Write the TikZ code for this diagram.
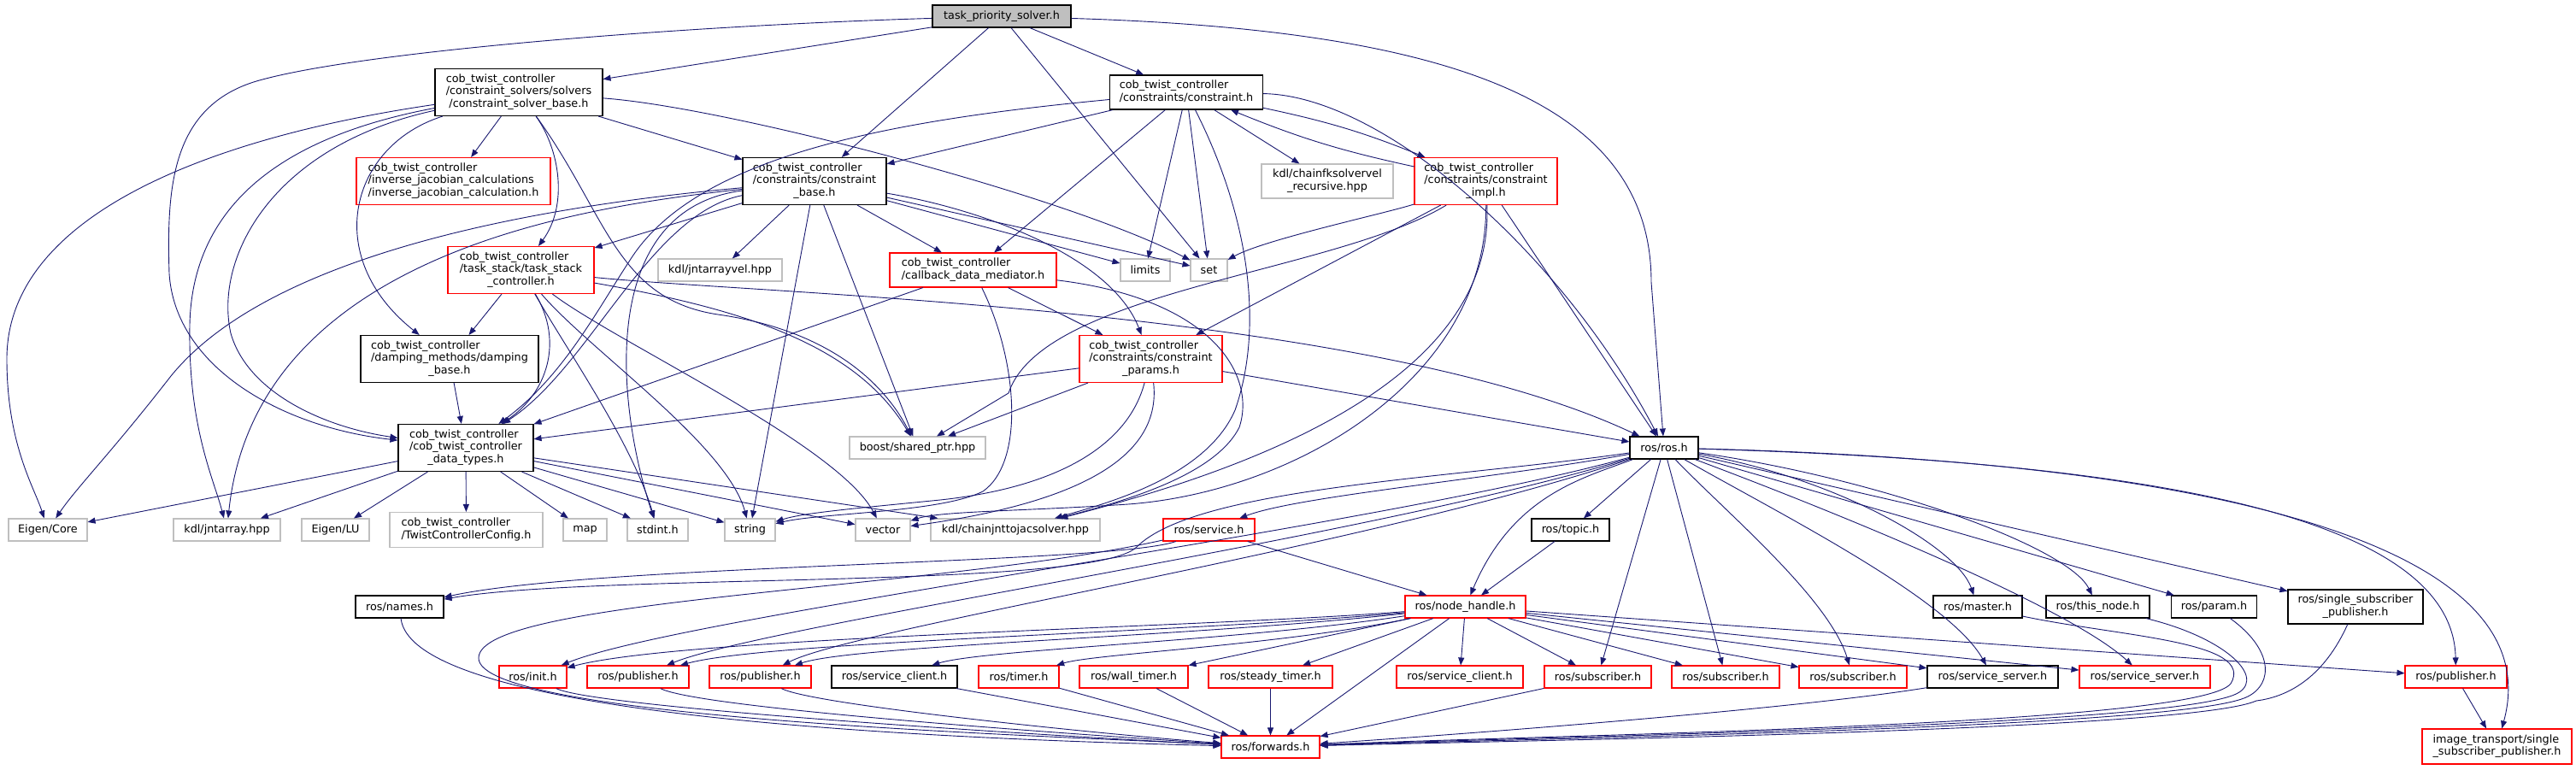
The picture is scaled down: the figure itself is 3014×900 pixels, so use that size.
\documentclass[tikz,border=0pt]{standalone}
\usepackage{fontspec}
\setmainfont{DejaVu Sans}
\usetikzlibrary{arrows.meta}

\definecolor{edgeblue}{HTML}{191970}
\definecolor{boxgray}{HTML}{BFBFBF}
\definecolor{boxred}{HTML}{FF0000}

% multi-line labels: first lines flush left, last line centred
\newcommand{\lbltwo}[2]{\begin{tabular}{@{}l@{}}#1\\\multicolumn{1}{@{}c@{}}{#2}\end{tabular}}
\newcommand{\lblthree}[3]{\begin{tabular}{@{}l@{}}#1\\#2\\\multicolumn{1}{@{}c@{}}{#3}\end{tabular}}

\begin{document}
\begin{tikzpicture}[x=1pt, y=-1pt,
    hbox/.style={draw, line width=1.1pt, inner sep=0pt, fill=white,
        font=\fontsize{12.8}{14.5}\selectfont},
    doc/.style={hbox, draw=black},
    ext/.style={hbox, draw=boxgray},
    trunc/.style={hbox, draw=boxred},
    root/.style={hbox, draw=black, fill=boxgray},
    wh/.style 2 args={minimum width=#1pt, minimum height=#2pt},
    dep/.style={draw=edgeblue, line width=0.9pt, -{Triangle[length=9pt,width=7pt]}, fill=none}]

    \useasboundingbox (0,0) rectangle (3014,900);

    % Top of the graph
    \node[root, wh={162}{26}] (tps) at (1172,19) {task\_priority\_solver.h};
    \node[doc, wh={196}{55}] (csb) at (607,108) {\lblthree{cob\_twist\_controller}{/constraint\_solvers/solvers}{/constraint\_solver\_base.h}};
    \node[doc, wh={179}{40}] (con) at (1388,108) {\lbltwo{cob\_twist\_controller}{/constraints/constraint.h}};

    \node[trunc, wh={227}{55}] (ijc) at (530.5,212) {\lblthree{cob\_twist\_controller}{/inverse\_jacobian\_calculations}{/inverse\_jacobian\_calculation.h}};
    \node[doc, wh={168}{55}] (cbase) at (953,212) {\lblthree{cob\_twist\_controller}{/constraints/constraint}{\_base.h}};
    \node[ext, wh={154}{40}] (fk) at (1553,212) {\lbltwo{kdl/chainfksolvervel}{\_recursive.hpp}};
    \node[trunc, wh={167}{55}] (cimpl) at (1738.5,212) {\lblthree{cob\_twist\_controller}{/constraints/constraint}{\_impl.h}};

    \node[trunc, wh={171}{55}] (tsc) at (609.5,316) {\lblthree{cob\_twist\_controller}{/task\_stack/task\_stack}{\_controller.h}};
    \node[ext, wh={145}{26}] (jav) at (842.5,316) {kdl/jntarrayvel.hpp};
    \node[trunc, wh={195}{40}] (cdm) at (1138.5,316) {\lbltwo{cob\_twist\_controller}{/callback\_data\_mediator.h}};
    \node[ext, wh={58}{26}] (lim) at (1340,316) {limits};
    \node[ext, wh={43}{26}] (set) at (1414.5,316) {set};

    \node[doc, wh={208}{55}] (damp) at (526,420) {\lblthree{cob\_twist\_controller}{/damping\_methods/damping}{\_base.h}};
    \node[trunc, wh={167}{55}] (cpar) at (1346.5,420) {\lblthree{cob\_twist\_controller}{/constraints/constraint}{\_params.h}};

    \node[doc, wh={158}{55}] (dt) at (545,524) {\lblthree{cob\_twist\_controller}{/cob\_twist\_controller}{\_data\_types.h}};
    \node[ext, wh={159}{26}] (bsp) at (1073.5,524) {boost/shared\_ptr.hpp};
    \node[doc, wh={80}{26}] (ros) at (1947,524) {ros/ros.h};

    % System headers and ros headers
    \node[ext, wh={92}{26}] (ecore) at (56,620) {Eigen/Core};
    \node[ext, wh={125}{26}] (ja) at (265.5,620) {kdl/jntarray.hpp};
    \node[ext, wh={79}{26}] (elu) at (392.5,620) {Eigen/LU};
    \node[ext, wh={179}{41}] (tcc) at (545.5,620) {\lbltwo{cob\_twist\_controller}{/TwistControllerConfig.h}};
    \node[ext, wh={51}{26}] (map) at (684.5,620) {map};
    \node[ext, wh={71}{26}] (stdint) at (769.5,620) {stdint.h};
    \node[ext, wh={59}{26}] (string) at (877.5,620) {string};
    \node[ext, wh={64}{26}] (vector) at (1033,620) {vector};
    \node[ext, wh={198}{26}] (jtj) at (1188,620) {kdl/chainjnttojacsolver.hpp};
    \node[trunc, wh={107}{26}] (srv) at (1414.5,620) {ros/service.h};
    \node[doc, wh={91}{26}] (topic) at (1837.5,620) {ros/topic.h};

    \node[doc, wh={103}{26}] (names) at (467.5,710) {ros/names.h};
    \node[trunc, wh={141}{26}] (nh) at (1714.5,710) {ros/node\_handle.h};
    \node[doc, wh={104}{26}] (master) at (2314,710) {ros/master.h};
    \node[doc, wh={121}{26}] (thisnode) at (2454.5,710) {ros/this\_node.h};
    \node[doc, wh={100}{26}] (param) at (2590.5,710) {ros/param.h};
    \node[doc, wh={158}{40}] (ssp) at (2756,710) {\lbltwo{ros/single\_subscriber}{\_publisher.h}};

    \node[trunc, wh={79}{26}] (init) at (623.5,792) {ros/init.h};
    \node[trunc, wh={119}{26}] (pub1) at (746.5,792) {ros/publisher.h};
    \node[trunc, wh={119}{26}] (pub2) at (889.5,792) {ros/publisher.h};
    \node[doc, wh={147}{26}] (sc1) at (1046.5,792) {ros/service\_client.h};
    \node[trunc, wh={94}{26}] (timer) at (1192,792) {ros/timer.h};
    \node[trunc, wh={127}{26}] (wtimer) at (1326.5,792) {ros/wall\_timer.h};
    \node[trunc, wh={145}{26}] (stimer) at (1486.5,792) {ros/steady\_timer.h};
    \node[trunc, wh={148}{26}] (sc2) at (1708,792) {ros/service\_client.h};
    \node[trunc, wh={125}{26}] (sub1) at (1869.5,792) {ros/subscriber.h};
    \node[trunc, wh={126}{26}] (sub2) at (2019,792) {ros/subscriber.h};
    \node[trunc, wh={126}{26}] (sub3) at (2168,792) {ros/subscriber.h};
    \node[doc, wh={153}{26}] (ss1) at (2331.5,792) {ros/service\_server.h};
    \node[trunc, wh={153}{26}] (ss2) at (2509.5,792) {ros/service\_server.h};
    \node[trunc, wh={119}{26}] (pub3) at (2873.5,792) {ros/publisher.h};

    \node[trunc, wh={115}{26}] (fwd) at (1486.5,874) {ros/forwards.h};
    \node[trunc, wh={175}{41}] (itsp) at (2921.5,873.5) {\lbltwo{image\_transport/single}{\_subscriber\_publisher.h}};

    % task_priority_solver.h
    \draw[dep] (tps) -- (csb);
    \draw[dep] (tps) .. controls (800,30) and (420,60) .. (300,95) .. controls (200,125) and (195,220) .. (198,320) .. controls (205,430) and (330,500) .. (dt);
    \draw[dep] (tps) -- (cbase);
    \draw[dep] (tps) -- (con);
    \draw[dep] (tps) -- (set);
    \draw[dep] (tps) .. controls (1700,35) and (1932,120) .. (1932,330) -- (ros);

    % constraint_solver_base.h
    \draw[dep] (csb) -- (ijc);
    \draw[dep] (csb) .. controls (655,175) and (665,240) .. (tsc);
    \draw[dep] (csb) -- (cbase);
    \draw[dep] (csb) .. controls (850,125) and (1250,230) .. (set);
    \draw[dep] (csb) .. controls (250,160) and (8,250) .. (8,420) .. controls (8,520) and (40,570) .. (ecore);
    \draw[dep] (csb) .. controls (330,160) and (225,240) .. (222,380) .. controls (220,500) and (250,560) .. (ja);
    \draw[dep] (csb) .. controls (320,170) and (250,300) .. (270,390) .. controls (290,460) and (380,500) .. (dt);
    \draw[dep] (csb) .. controls (410,170) and (375,300) .. (damp);
    \draw[dep] (csb) .. controls (710,250) and (720,350) .. (840,368) .. controls (960,385) and (1030,440) .. (bsp);

    % constraint.h
    \draw[dep] (con) -- (cbase);
    \draw[dep] (con) .. controls (1050,140) and (820,180) .. (740,300) .. controls (700,360) and (660,440) .. (dt);
    \draw[dep] (con) -- (cdm);
    \draw[dep] (con) -- (lim);
    \draw[dep] (con) -- (set);
    \draw[dep] (con) -- (fk);
    \draw[dep] (con) to[bend left=5] (cimpl);
    \draw[dep] (con) .. controls (1620,112) and (1830,300) .. (ros);
    \draw[dep] (con) .. controls (1460,250) and (1480,380) .. (1445,480) .. controls (1410,560) and (1290,590) .. (jtj);

    % constraint_base.h
    \draw[dep] (cbase) -- (tsc);
    \draw[dep] (cbase) .. controls (700,235) and (330,280) .. (200,440) .. controls (130,530) and (90,570) .. (ecore);
    \draw[dep] (cbase) .. controls (700,240) and (300,290) .. (ja);
    \draw[dep] (cbase) .. controls (760,250) and (690,430) .. (dt);
    \draw[dep] (cbase) .. controls (700,245) and (720,470) .. (stdint);
    \draw[dep] (cbase) -- (jav);
    \draw[dep] (cbase) -- (string);
    \draw[dep] (cbase) -- (bsp);
    \draw[dep] (cbase) -- (cdm);
    \draw[dep] (cbase) -- (lim);
    \draw[dep] (cbase) -- (set);
    \draw[dep] (cbase) .. controls (1150,245) and (1300,300) .. (cpar);

    % task_stack_controller.h and damping_base.h
    \draw[dep] (tsc) -- (damp);
    \draw[dep] (tsc) .. controls (660,400) and (640,460) .. (dt);
    \draw[dep] (tsc) .. controls (670,420) and (740,520) .. (stdint);
    \draw[dep] (tsc) .. controls (690,410) and (850,520) .. (string);
    \draw[dep] (tsc) .. controls (720,400) and (980,520) .. (vector);
    \draw[dep] (tsc) .. controls (860,360) and (1000,400) .. (bsp);
    \draw[dep] (tsc) .. controls (900,345) and (1600,360) .. (ros);
    \draw[dep] (damp) -- (dt);

    % callback_data_mediator.h
    \draw[dep] (cdm) -- (dt);
    \draw[dep] (cdm) -- (cpar);
    \draw[dep] (cdm) .. controls (1420,350) and (1470,440) .. (1450,500) .. controls (1420,560) and (1300,590) .. (jtj);
    \draw[dep] (cdm) .. controls (1190,420) and (1200,540) .. (1150,575) .. controls (1100,600) and (960,600) .. (string);

    % constraint_params.h
    \draw[dep] (cpar) -- (dt);
    \draw[dep] (cpar) -- (bsp);
    \draw[dep] (cpar) -- (ros);
    \draw[dep] (cpar) .. controls (1320,520) and (1240,570) .. (1100,585) .. controls (1000,595) and (940,600) .. (string);
    \draw[dep] (cpar) .. controls (1360,540) and (1250,590) .. (vector);

    % constraint_impl.h
    \draw[dep] (cimpl) to[bend left=5] (con);
    \draw[dep] (cimpl) .. controls (1620,250) and (1480,280) .. (set);
    \draw[dep] (cimpl) -- (cpar);
    \draw[dep] (cimpl) .. controls (1560,320) and (1220,340) .. (1180,460) -- (bsp);
    \draw[dep] (cimpl) -- (ros);
    \draw[dep] (cimpl) .. controls (1740,440) and (1520,575) .. (1320,590) .. controls (1200,598) and (1100,598) .. (vector);
    \draw[dep] (cimpl) .. controls (1750,460) and (1420,560) .. (jtj);

    % cob_twist_controller_data_types.h
    \draw[dep] (dt) -- (ecore);
    \draw[dep] (dt) -- (ja);
    \draw[dep] (dt) -- (elu);
    \draw[dep] (dt) -- (tcc);
    \draw[dep] (dt) -- (map);
    \draw[dep] (dt) -- (stdint);
    \draw[dep] (dt) -- (string);
    \draw[dep] (dt) -- (vector);
    \draw[dep] (dt) -- (jtj);

    % ros/ros.h
    \draw[dep] (ros) .. controls (1750,560) and (1520,580) .. (srv);
    \draw[dep] (ros) -- (topic);
    \draw[dep] (ros) .. controls (1700,560) and (1400,570) .. (1330,640) .. controls (1280,690) and (700,670) .. (names);
    \draw[dep] (ros) .. controls (1850,560) and (1770,580) .. (nh);
    \draw[dep] (ros) .. controls (2150,560) and (2290,640) .. (master);
    \draw[dep] (ros) .. controls (2200,560) and (2420,640) .. (thisnode);
    \draw[dep] (ros) -- (param);
    \draw[dep] (ros) -- (ssp);
    \draw[dep] (ros) .. controls (1600,620) and (800,720) .. (init);
    \draw[dep] (ros) .. controls (1600,630) and (900,730) .. (pub1);
    \draw[dep] (ros) .. controls (1600,640) and (1000,735) .. (pub2);
    \draw[dep] (ros) -- (sub1);
    \draw[dep] (ros) -- (sub2);
    \draw[dep] (ros) .. controls (2020,600) and (2140,700) .. (sub3);
    \draw[dep] (ros) .. controls (2080,600) and (2280,700) .. (ss1);
    \draw[dep] (ros) .. controls (2150,600) and (2420,710) .. (ss2);
    \draw[dep] (ros) .. controls (2500,540) and (2870,600) .. (pub3);
    \draw[dep] (ros) .. controls (2600,540) and (2985,640) .. (itsp);

    % ros/topic.h, ros/service.h, ros/names.h
    \draw[dep] (topic) -- (nh);
    \draw[dep] (srv) .. controls (1300,660) and (700,660) .. (names);
    \draw[dep] (srv) -- (nh);
    \draw[dep] (srv) .. controls (1100,690) and (560,700) .. (560,770) .. controls (560,840) and (1200,860) .. (fwd);
    \draw[dep] (names) .. controls (480,820) and (900,860) .. (fwd);

    % ros/node_handle.h
    \draw[dep] (nh) .. controls (1400,735) and (800,745) .. (init);
    \draw[dep] (nh) .. controls (1400,740) and (900,750) .. (pub1);
    \draw[dep] (nh) .. controls (1400,745) and (1000,755) .. (pub2);
    \draw[dep] (nh) .. controls (1450,750) and (1150,760) .. (sc1);
    \draw[dep] (nh) .. controls (1500,755) and (1280,765) .. (timer);
    \draw[dep] (nh) -- (wtimer);
    \draw[dep] (nh) -- (stimer);
    \draw[dep] (nh) -- (sc2);
    \draw[dep] (nh) -- (sub1);
    \draw[dep] (nh) -- (sub2);
    \draw[dep] (nh) -- (sub3);
    \draw[dep] (nh) -- (ss1);
    \draw[dep] (nh) -- (ss2);
    \draw[dep] (nh) -- (pub3);
    \draw[dep] (nh) -- (fwd);

    % into ros/forwards.h
    \draw[dep] (init) .. controls (700,830) and (1300,865) .. (fwd);
    \draw[dep] (pub1) .. controls (820,830) and (1300,862) .. (fwd);
    \draw[dep] (pub2) .. controls (950,825) and (1300,860) .. (fwd);
    \draw[dep] (sc1) -- (fwd);
    \draw[dep] (timer) -- (fwd);
    \draw[dep] (wtimer) -- (fwd);
    \draw[dep] (stimer) -- (fwd);
    \draw[dep] (sub1) -- (fwd);
    \draw[dep] (ss1) .. controls (2100,830) and (1700,860) .. (fwd);
    \draw[dep] (master) .. controls (2480,745) and (2640,750) .. (2610,800) .. controls (2570,850) and (1800,860) .. (fwd);
    \draw[dep] (thisnode) .. controls (2600,745) and (2650,790) .. (2620,810) .. controls (2560,850) and (1800,862) .. (fwd);
    \draw[dep] (param) .. controls (2660,760) and (2660,800) .. (2630,815) .. controls (2560,852) and (1800,864) .. (fwd);
    \draw[dep] (ssp) .. controls (2720,790) and (2680,815) .. (2640,820) .. controls (2560,855) and (1800,866) .. (fwd);
    \draw[dep] (pub3) -- (itsp);

\end{tikzpicture}
\end{document}
